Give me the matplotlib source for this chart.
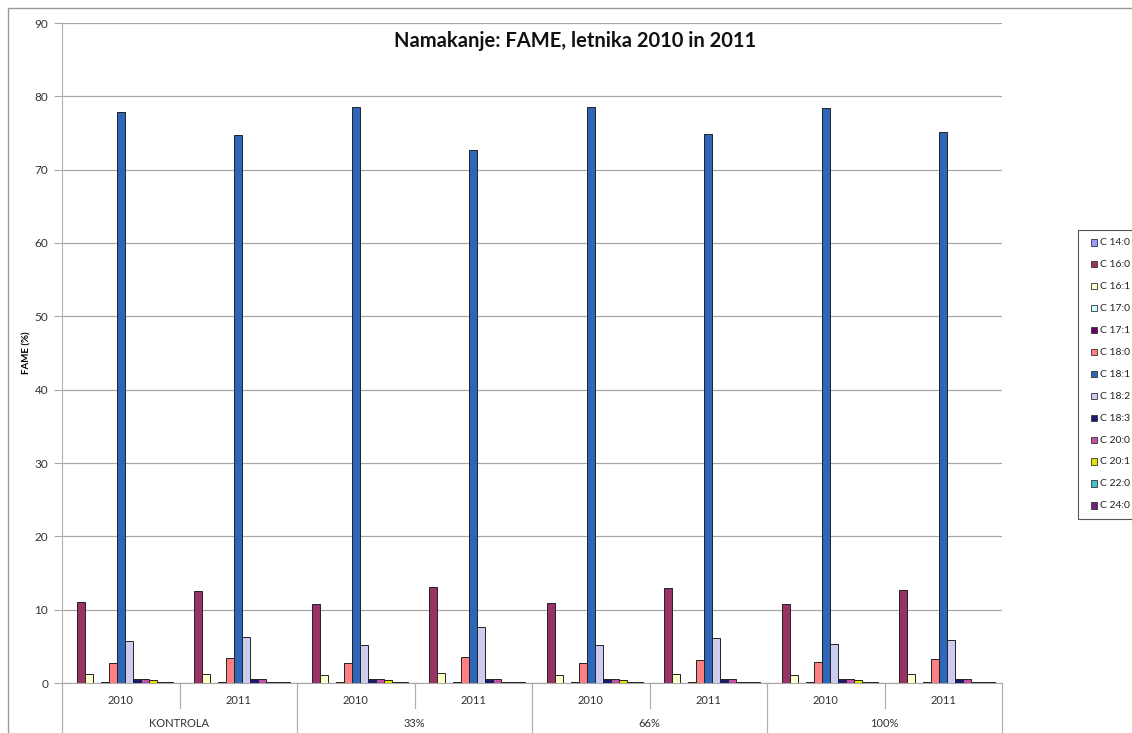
import matplotlib
matplotlib.use("Agg")
import matplotlib.pyplot as plt
import matplotlib.transforms as mtransforms
from matplotlib.patches import Rectangle
import numpy as np

plt.rcParams['font.family'] = ['Lato', 'DejaVu Sans']

categories = ["KONTROLA", "33%", "66%", "100%"]
years = ["2010", "2011"]
series = ["C 14:0", "C 16:0", "C 16:1", "C 17:0", "C 17:1", "C 18:0", "C 18:1",
          "C 18:2", "C 18:3", "C 20:0", "C 20:1", "C 22:0", "C 24:0"]
colors = ["#9999FF", "#993366", "#FFFFCC", "#CCFFFF", "#660066", "#FF8080", "#2E66B8",
          "#CCCCEE", "#1A1A6E", "#C050A8", "#E8E000", "#40C0D0", "#702080"]

# values per group: K2010, K2011, 33%2010, 33%2011, 66%2010, 66%2011, 100%2010, 100%2011
c14_0 = [0.03, 0.03, 0.03, 0.03, 0.03, 0.03, 0.03, 0.03]
c16_0 = [11.1, 12.6, 10.8, 13.1, 10.9, 13.0, 10.8, 12.7]
c16_1 = [1.2, 1.2, 1.1, 1.3, 1.1, 1.2, 1.1, 1.2]
c17_0 = [0.05, 0.05, 0.05, 0.05, 0.05, 0.05, 0.05, 0.05]
c17_1 = [0.12, 0.12, 0.12, 0.12, 0.12, 0.12, 0.12, 0.12]
c18_0 = [2.7, 3.4, 2.7, 3.5, 2.7, 3.2, 2.8, 3.3]
c18_1 = [77.8, 74.7, 78.6, 72.7, 78.6, 74.8, 78.4, 75.2]
c18_2 = [5.7, 6.3, 5.2, 7.7, 5.2, 6.1, 5.3, 5.8]
c18_3 = [0.55, 0.55, 0.55, 0.55, 0.55, 0.55, 0.55, 0.55]
c20_0 = [0.55, 0.55, 0.55, 0.55, 0.55, 0.55, 0.55, 0.55]
c20_1 = [0.4, 0.2, 0.4, 0.2, 0.4, 0.2, 0.4, 0.2]
c22_0 = [0.1, 0.1, 0.1, 0.1, 0.1, 0.1, 0.1, 0.1]
c24_0 = [0.1, 0.1, 0.1, 0.1, 0.1, 0.1, 0.1, 0.1]
values = [c14_0, c16_0, c16_1, c17_0, c17_1, c18_0, c18_1, c18_2, c18_3, c20_0, c20_1, c22_0, c24_0]

W, H = 1132, 733
fig = plt.figure(figsize=(W / 100, H / 100), dpi=100)
ax = fig.add_axes([62 / W, 50 / H, 940 / W, 660 / H])

# outer chart border
fig.patches.append(Rectangle((8 / W, -0.2), 1.2, 1 - 8 / H + 0.2, transform=fig.transFigure,
                             fill=False, edgecolor="#9a9a9a", linewidth=1.0, zorder=0))

ngroups = 8
nser = len(series)
w = 1.0 / (nser + 1.75)
x = np.arange(ngroups)
for j, (name, vals, col) in enumerate(zip(series, values, colors)):
    ax.bar(x + (j - (nser - 1) / 2) * w, vals, width=w, color=col,
           edgecolor="#222222", linewidth=0.7, label=name, zorder=3)

ax.set_xlim(-0.5, ngroups - 0.5)
ax.set_ylim(0, 90)
ax.set_yticks(range(0, 91, 10))
ax.yaxis.grid(True, color="#a8a8a8", linewidth=0.9, zorder=0)
ax.set_axisbelow(True)
ax.set_xticks([])
for s in ["top", "right"]:
    ax.spines[s].set_visible(False)
ax.spines["left"].set_color("#b0b0b0")
ax.spines["bottom"].set_color("#a8a8a8")
ax.tick_params(axis="y", direction="out", length=6, color="#a8a8a8", labelsize=8.5,
               labelcolor="#333333", pad=4)

# multi-level x labels
trans = mtransforms.blended_transform_factory(ax.transData, ax.transAxes)
for i in range(ngroups + 1):
    xb = i - 0.5
    if i % 2 == 0:
        ax.plot([xb, xb], [0, -0.08], transform=trans, color="#b0b0b0", linewidth=0.9, clip_on=False)
    else:
        ax.plot([xb, xb], [0, -0.038], transform=trans, color="#b0b0b0", linewidth=0.9, clip_on=False)
for i in range(ngroups):
    ax.text(i, -0.026, years[i % 2], transform=trans, ha="center", va="center",
            fontsize=8, color="#333333")
for k, c in enumerate(categories):
    ax.text(2 * k + 0.5, -0.062, c, transform=trans, ha="center", va="center",
            fontsize=8, color="#333333")

ax.set_ylabel("FAME (%)", fontsize=7, fontweight="bold")
ax.yaxis.set_label_coords(-31 / 940, 0.5)

fig.text(575 / W, 1 - 41 / H, "Namakanje: FAME, letnika 2010 in 2011", ha="center", va="center",
         fontsize=14.5, fontweight="bold", color="#111111")

# legend (drawn manually, extends past right edge as in the reference)
def fx(px):
    return px / W

def fy(py):
    return 1 - py / H

fig.patches.append(Rectangle((fx(1078), fy(519)), fx(1200) - fx(1078), fy(230) - fy(519),
                             transform=fig.transFigure, facecolor="white",
                             edgecolor="#555555", linewidth=0.8, zorder=5))
for k, (name, col) in enumerate(zip(series, colors)):
    yc = 242.5 + k * 21.95
    fig.patches.append(Rectangle((fx(1090.5), fy(yc + 3)), 6.5 / W, 6.5 / H,
                                 transform=fig.transFigure, facecolor=col,
                                 edgecolor="#333333", linewidth=0.6, zorder=6))
    fig.text(fx(1100.5), fy(yc), name, ha="left", va="center", fontsize=7.5,
             color="#222222", zorder=7)

fig.savefig("out.png", dpi=100)
